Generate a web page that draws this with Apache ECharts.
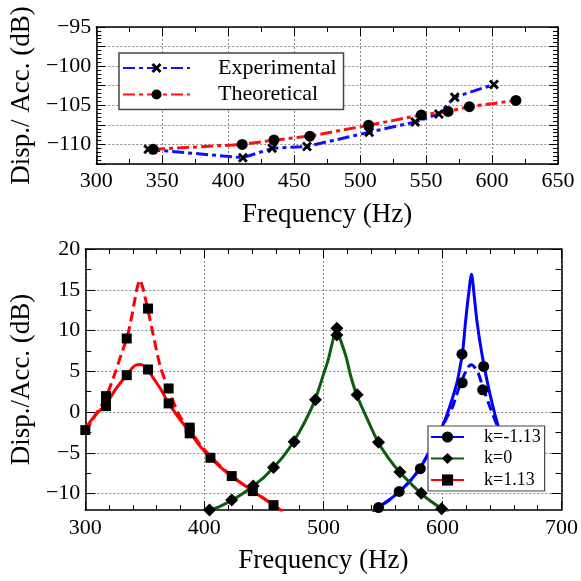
<!DOCTYPE html>
<html><head><meta charset="utf-8">
<script src="https://cdn.jsdelivr.net/npm/echarts@6/dist/echarts.min.js"></script>
<style>html,body{margin:0;padding:0;background:#fff}#c{width:581px;height:581px}</style>
</head><body><div id="c"></div>
<script>
// ---------- Top chart data ----------
const expFreq = [339.4, 411.1, 433.3, 459.7, 506.9, 541.7, 559.7, 571.7, 601.4];
const expVal  = [-110.63, -111.7, -110.5, -110.25, -108.44, -107.13, -106.1, -103.96, -102.35];
const theoFreq = [343.1, 410.6, 434.7, 461.9, 506.4, 546.4, 566.7, 582.8, 618.1];
const theoVal  = [-110.63, -110.0, -109.45, -108.94, -107.55, -106.24, -105.78, -105.18, -104.38];

// ---------- Bottom chart data ----------
const redDashFreq = [300,305,310,317,325,330,335,338,341,343.5,345.8,348,350,352.7,357,363,370,379,388,396,405,414,423,432,441,450,458,466];
const redDashVal  = [-2.4,-1.2,0,1.7,4.8,7.0,9.1,11,13.3,15.2,16.2,15.4,14.2,12.5,9.5,5.6,2.8,-0.4,-2.2,-3.9,-5.4,-6.7,-7.8,-8.8,-9.7,-10.6,-11.4,-12.2];
const redSolidFreq = [300,305,310,317,326,335,340,343,346,349,353,357,363,370,379,388,396,405,414,423,432,441,450,458,466];
const redSolidVal  = [-2.0,-1.0,-0.1,0.9,2.9,4.6,5.5,5.8,5.85,5.7,5.1,4.2,2.9,1.1,-0.8,-2.5,-4.1,-5.6,-6.8,-7.9,-8.8,-9.7,-10.6,-11.4,-12.2];
const greenFreq = [404,414,423,432,441,450,458,467,475,484,493,500,504,508,511,514,519,523,528,537,546,555,564,573,582,590,599,605];
const greenVal  = [-12.1,-11.5,-10.8,-10.0,-9.05,-8.0,-6.8,-5.3,-3.6,-1.3,1.5,4.6,6.4,8.8,10.2,9.0,6.8,4.4,2.1,-0.9,-3.7,-5.7,-7.35,-8.7,-9.95,-10.9,-11.8,-12.3];
const blueSolidFreq = [540,546,555,564,573,581,590,597,601.5,605,609,612.5,615,617,619.4,622,624.4,626.5,629,633.3,638.7,645.6,652,660];
const blueSolidVal  = [-12.6,-11.7,-10.8,-9.7,-8.4,-6.9,-4.6,-2.6,-1.2,0.2,2.0,3.8,5.7,7.4,11.1,14.5,16.9,14.5,11.1,7.0,3.0,-1.1,-4.0,-7.0];
const blueDashFreq = [540,546,555,564,573,581,590,597,601.5,605,608.4,612,616,620,622,624.4,627,630,633,636,640,645,652,660];
const blueDashVal  = [-12.6,-11.7,-10.8,-9.7,-8.4,-6.9,-4.6,-2.6,-1.3,-0.3,0.6,2.2,3.8,5.1,5.6,5.8,5.5,4.8,3.5,2.2,0.6,-1.3,-4.0,-7.0];

const redMarkFreq = [300,317.4,317.4,334.8,334.8,352.7,352.7,370,370,387.7,387.7,405.1,423,440.7,458.1];
const redMarkVal  = [-2.2,1.96,0.74,9.03,4.53,12.7,5.23,2.9,1.07,-1.9,-2.6,-5.6,-7.84,-9.68,-11.4];
const greenMarkFreq = [404.3,423,441,458.1,475.4,493.3,511.3,511.3,528.4,546.3,564.3,582.2,599.3];
const greenMarkVal  = [-12,-10.78,-9.05,-6.8,-3.63,1.52,10.27,9.45,2.13,-3.68,-7.34,-9.94,-11.84];
const blueMarkFreq = [546.3,563.7,581.4,616.4,616.6,634.6,633.8];
const blueMarkVal  = [-11.7,-9.73,-6.93,7.1,3.6,5.6,2.74];

const topXTicks = [300, 650, 50];
const topYTicks = [-112.5, -95, 2.5];
const botXTicks = [300, 700, 100];
const botYMajor = [-10, -5, 0, 5, 10, 15, 20];
const botYMinor = [-7.5, -2.5, 2.5, 7.5, 12.5, 17.5];

const names = {exp:'Experimental', theo:'Theoretical', kn:'k=-1.13', k0:'k=0', kp:'k=1.13'};

function zip(a, b) { return a.map((v, i) => [v, b[i]]); }
function fmt(v) { return v < 0 ? '\u2212' + Math.abs(v) : String(v); }

const FF = '"Liberation Serif", "Times New Roman", serif';
const axisLine = {show: true, onZero: false, lineStyle: {color: '#000', width: 1.5}};
const gridLine = {show: true, lineStyle: {color: '#8a8a8a', width: 1, type: [2, 2]}};
const labelStyle = {fontFamily: FF, fontSize: 22, color: '#000'};
const nameStyle = {fontFamily: FF, fontSize: 27, color: '#000'};
const XSYM = 'path://M0,2L2,0L5,3L8,0L10,2L7,5L10,8L8,10L5,7L2,10L0,8L3,5Z';

const chart = echarts.init(document.getElementById('c'), null, {renderer: 'canvas'});

const option = {
  animation: false,
  backgroundColor: '#fff',
  grid: [
    {left: 92, top: 27, width: 466, height: 137},
    {left: 81, top: 249, width: 483, height: 261}
  ],
  xAxis: [
    {gridIndex: 0, type: 'value', min: topXTicks[0], max: topXTicks[1], interval: topXTicks[2], position: 'bottom',
     axisLine: axisLine, axisTick: {inside: true, length: 9, lineStyle: {color: '#000', width: 1}},
     minorTick: {show: true, splitNumber: 2, length: 5, lineStyle: {color: '#000', width: 1}},
     axisLabel: Object.assign({margin: 6}, labelStyle), splitLine: gridLine,
     name: 'Frequency (Hz)', nameLocation: 'middle', nameGap: 37, nameTextStyle: nameStyle},
    {gridIndex: 0, type: 'value', min: topXTicks[0], max: topXTicks[1], interval: topXTicks[2], position: 'top',
     axisLine: axisLine, axisTick: {inside: true, length: 9, lineStyle: {color: '#000', width: 1}},
     minorTick: {show: true, splitNumber: 2, length: 5, lineStyle: {color: '#000', width: 1}},
     axisLabel: {show: false}, splitLine: {show: false}},
    {gridIndex: 1, type: 'value', min: botXTicks[0], max: botXTicks[1], interval: botXTicks[2], position: 'bottom',
     axisLine: axisLine, axisTick: {inside: true, length: 9, lineStyle: {color: '#000', width: 1}},
     minorTick: {show: true, splitNumber: 5, length: 5, lineStyle: {color: '#000', width: 1}},
     axisLabel: Object.assign({margin: 7}, labelStyle), splitLine: gridLine,
     name: 'Frequency (Hz)', nameLocation: 'middle', nameGap: 37, nameTextStyle: nameStyle},
    {gridIndex: 1, type: 'value', min: botXTicks[0], max: botXTicks[1], interval: botXTicks[2], position: 'top',
     axisLine: axisLine, axisTick: {inside: true, length: 9, lineStyle: {color: '#000', width: 1}},
     minorTick: {show: true, splitNumber: 5, length: 5, lineStyle: {color: '#000', width: 1}},
     axisLabel: {show: false}, splitLine: {show: false}}
  ],
  yAxis: [
    {gridIndex: 0, type: 'value', min: topYTicks[0], max: topYTicks[1], interval: topYTicks[2], position: 'left',
     axisLine: axisLine, axisTick: {inside: true, length: 9, lineStyle: {color: '#000', width: 1}},
     minorTick: {show: true, splitNumber: 5, length: 5, lineStyle: {color: '#000', width: 1}},
     axisLabel: Object.assign({margin: 5, formatter: v => (v % 5 === 0 ? fmt(v) : '')}, labelStyle),
     splitLine: gridLine,
     name: 'Disp./ Acc. (dB)', nameLocation: 'middle', nameGap: 52, nameTextStyle: nameStyle},
    {gridIndex: 0, type: 'value', min: topYTicks[0], max: topYTicks[1], interval: topYTicks[2], position: 'right',
     axisLine: axisLine, axisTick: {inside: true, length: 9, lineStyle: {color: '#000', width: 1}},
     minorTick: {show: true, splitNumber: 5, length: 5, lineStyle: {color: '#000', width: 1}},
     axisLabel: {show: false}, splitLine: {show: false}},
    {gridIndex: 1, type: 'value', min: -12, max: 20, splitNumber: 6, position: 'left',
     axisLine: axisLine, axisTick: {inside: true, length: 10, customValues: botYMajor, lineStyle: {color: '#000', width: 1}},
     axisLabel: Object.assign({margin: 5, customValues: botYMajor, formatter: v => fmt(v)}, labelStyle),
     splitLine: gridLine,
     name: 'Disp./Acc. (dB)', nameLocation: 'middle', nameGap: 45, nameTextStyle: nameStyle},
    {gridIndex: 1, type: 'value', min: -12, max: 20, splitNumber: 6, position: 'left',
     axisLine: {show: false}, axisTick: {inside: true, length: 6, customValues: botYMinor, lineStyle: {color: '#000', width: 1}},
     axisLabel: {show: false}, splitLine: {show: false}},
    {gridIndex: 1, type: 'value', min: -12, max: 20, splitNumber: 6, position: 'right',
     axisLine: axisLine, axisTick: {inside: true, length: 10, customValues: botYMajor, lineStyle: {color: '#000', width: 1}},
     axisLabel: {show: false}, splitLine: {show: false}},
    {gridIndex: 1, type: 'value', min: -12, max: 20, splitNumber: 6, position: 'right',
     axisLine: {show: false}, axisTick: {inside: true, length: 6, customValues: botYMinor, lineStyle: {color: '#000', width: 1}},
     axisLabel: {show: false}, splitLine: {show: false}}
  ],
  legend: [
    {left: 119, top: 53, orient: 'vertical', data: [names.exp, names.theo],
     itemWidth: 67, itemHeight: 12.5, itemGap: 4.5, padding: [4, 7, 4, 3],
     borderColor: '#444', borderWidth: 1.5, backgroundColor: '#fff', borderRadius: 0,
     textStyle: {fontFamily: FF, fontSize: 22, lineHeight: 22, color: '#000', padding: [0, 0, 0, 23]}},
    {left: 428, top: 426, orient: 'vertical', data: [names.kn, names.k0, names.kp],
     itemWidth: 33, itemHeight: 14, itemGap: 3.5, padding: [2, 4, 2, 2],
     borderColor: '#444', borderWidth: 1.2, backgroundColor: '#fff', borderRadius: 0,
     textStyle: {fontFamily: FF, fontSize: 18, lineHeight: 18, color: '#000', padding: [0, 0, 0, 15]}}
  ],
  series: [
    {name: names.exp, type: 'line', xAxisIndex: 0, yAxisIndex: 0, data: zip(expFreq, expVal),
     symbol: XSYM, symbolSize: 10, itemStyle: {color: '#000', opacity: 1},
     lineStyle: {color: '#1010ff', width: 3, type: [12, 4, 4, 4]}, z: 3},
    {name: names.theo, type: 'line', xAxisIndex: 0, yAxisIndex: 0, data: zip(theoFreq, theoVal),
     symbol: 'circle', symbolSize: 11, itemStyle: {color: '#000', opacity: 1},
     lineStyle: {color: '#ff1010', width: 3, type: [12, 4, 4, 4]}, z: 3},

    {name: names.kn, type: 'line', xAxisIndex: 2, yAxisIndex: 2, data: zip(blueSolidFreq, blueSolidVal),
     symbol: 'circle', symbolSize: 10, showSymbol: false, smooth: 0.3, itemStyle: {color: '#000', opacity: 1},
     lineStyle: {color: '#0000ff', width: 3}, z: 2},
    {name: names.kn + ' dashed', type: 'line', xAxisIndex: 2, yAxisIndex: 2, data: zip(blueDashFreq, blueDashVal),
     symbol: 'none', smooth: 0.3, itemStyle: {color: '#0000ff'},
     lineStyle: {color: '#0000ff', width: 3, type: [10, 5]}, z: 2},
    {name: names.k0, type: 'line', xAxisIndex: 2, yAxisIndex: 2, data: zip(greenFreq, greenVal),
     symbol: 'diamond', symbolSize: 13, showSymbol: false, smooth: 0.3, itemStyle: {color: '#000', opacity: 1},
     lineStyle: {color: '#0b5e0b', width: 3}, z: 2},
    {name: names.kp, type: 'line', xAxisIndex: 2, yAxisIndex: 2, data: zip(redSolidFreq, redSolidVal),
     symbol: 'rect', symbolSize: 10, showSymbol: false, smooth: 0.3, itemStyle: {color: '#000', opacity: 1},
     lineStyle: {color: '#ff0000', width: 3}, z: 2},
    {name: names.kp + ' dashed', type: 'line', xAxisIndex: 2, yAxisIndex: 2, data: zip(redDashFreq, redDashVal),
     symbol: 'none', smooth: 0.3, itemStyle: {color: '#ff0000'},
     lineStyle: {color: '#ff0000', width: 3, type: [10, 5]}, z: 2},

    {name: names.kn + ' exp', type: 'scatter', xAxisIndex: 2, yAxisIndex: 2, data: zip(blueMarkFreq, blueMarkVal),
     symbol: 'circle', symbolSize: 11, itemStyle: {color: '#000', opacity: 1}, z: 4},
    {name: names.k0 + ' exp', type: 'scatter', xAxisIndex: 2, yAxisIndex: 2, data: zip(greenMarkFreq, greenMarkVal),
     symbol: 'diamond', symbolSize: 13, itemStyle: {color: '#000', opacity: 1}, z: 4},
    {name: names.kp + ' exp', type: 'scatter', xAxisIndex: 2, yAxisIndex: 2, data: zip(redMarkFreq, redMarkVal),
     symbol: 'rect', symbolSize: 10, itemStyle: {color: '#000', opacity: 1}, z: 4}
  ]
};
chart.setOption(option);
</script>
</body></html>
